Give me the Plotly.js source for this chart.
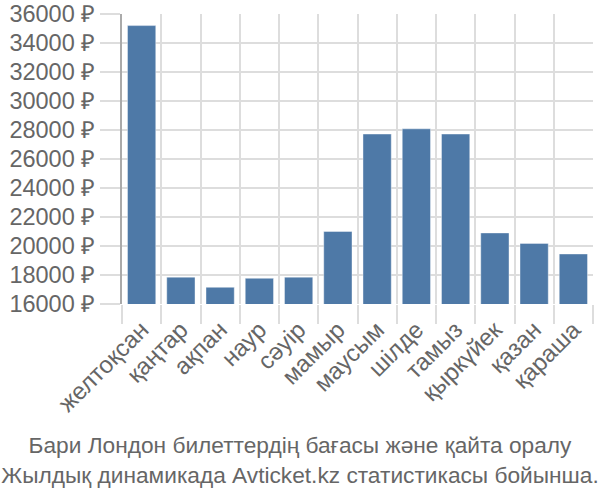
<!DOCTYPE html>
<html>
<head>
<meta charset="utf-8">
<script src="https://cdn.plot.ly/plotly-3.0.1.min.js"></script>
<style>html,body{margin:0;padding:0;background:#fff;}#chart{width:600px;height:500px;}</style>
</head>
<body>
<div id="chart"></div>
<script>
const months = ["желтоқсан", "қаңтар", "ақпан", "наур", "сәуір", "мамыр", "маусым", "шілде", "тамыз", "қыркүйек", "қазан", "қараша"];
const prices = [35200, 17850, 17150, 17770, 17850, 21000, 27720, 28080, 27720, 20900, 20180, 19450];
const yTicks = [16000, 18000, 20000, 22000, 24000, 26000, 28000, 30000, 32000, 34000, 36000];
const yTickText = yTicks.map(v => v + " ₽");
const titleLines = ["Бари Лондон билеттердің бағасы және қайта оралу", "Жылдық динамикада Avticket.kz статистикасы бойынша."];

const font = "Liberation Sans, Arial, sans-serif";
Plotly.newPlot("chart", [{
  type: "bar",
  x: months,
  y: prices,
  marker: {color: "#4e79a7", line: {color: "rgba(255,255,255,0.4)", width: 1}},
  hoverinfo: "none"
}], {
  width: 600, height: 500,
  margin: {l: 122, r: 7, t: 14, b: 196},
  paper_bgcolor: "#fff", plot_bgcolor: "#fff",
  bargap: 0.28,
  showlegend: false,
  font: {family: font, color: "#666", size: 24},
  title: {
    text: titleLines.join("<br>"),
    font: {family: font, size: 22.7, color: "#666"},
    x: 0.5, xanchor: "center",
    yref: "container", y: 0.094, yanchor: "middle"
  },
  xaxis: {
    type: "category",
    tickson: "boundaries",
    ticks: "outside", ticklen: 19, tickcolor: "#ddd", tickwidth: 2,
    showgrid: true, gridcolor: "#ddd", gridwidth: 2,
    tickangle: -45,
    ticklabelstandoff: 6,
    tickfont: {family: font, size: 24, color: "#666"},
    showline: false, zeroline: false
  },
  yaxis: {
    range: [16000, 36000],
    tickmode: "array",
    tickvals: yTicks,
    ticktext: yTickText,
    ticks: "outside", ticklen: 20, tickcolor: "#ddd", tickwidth: 2,
    showgrid: true, gridcolor: "#ddd", gridwidth: 2,
    showline: true, linecolor: "#aaa", linewidth: 2,
    zeroline: false,
    tickfont: {family: font, size: 23.5, color: "#666"}
  }
}, {displayModeBar: false, staticPlot: true});
</script>
</body>
</html>
